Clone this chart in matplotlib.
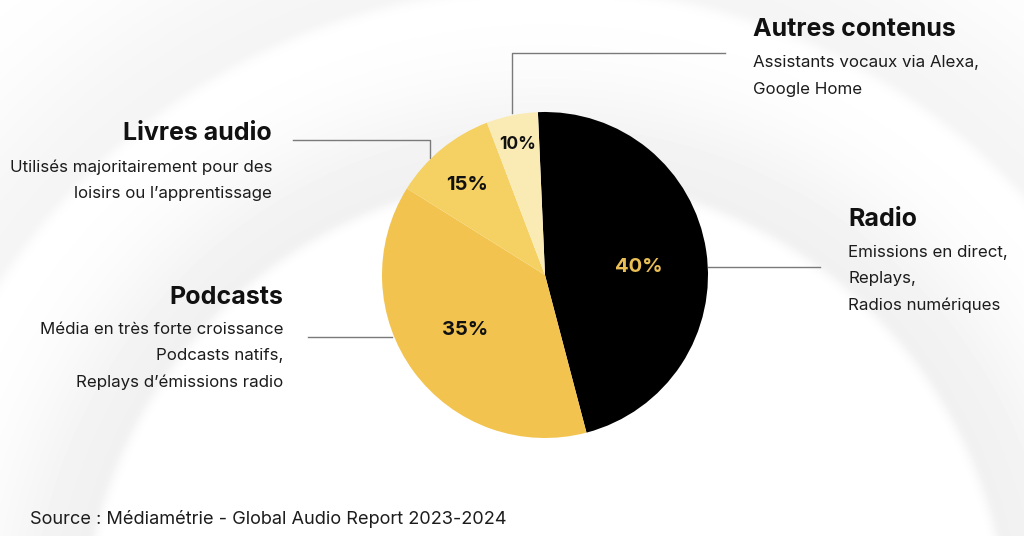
"""Répartition des usages audio - camembert annoté."""
import matplotlib.pyplot as plt
import numpy as np

plt.rcParams['font.family'] = ['Inter', 'DejaVu Sans']

# categories, shares shown in the labels, and slice sizes as drawn
categories = ['Radio', 'Podcasts', 'Livres audio', 'Autres contenus']
shares = [40, 35, 15, 10]
slice_sizes = [46.6, 38.0, 10.3, 5.1]
descriptions = [
    'Emissions en direct,\nReplays,\nRadios numériques',
    'Média en très forte croissance\nPodcasts natifs,\nReplays d’émissions radio',
    'Utilisés majoritairement pour des\nloisirs ou l’apprentissage',
    'Assistants vocaux via Alexa,\nGoogle Home',
]
source = 'Source : Médiamétrie - Global Audio Report 2023-2024'

W, H = 1024, 536
colors = ['#000000', '#F2C44F', '#F5D062', '#FAEBB4']
pct_colors = ['#E8BE55', '#111111', '#111111', '#111111']
pct_dist = [0.58, 0.595, 0.73, 0.82]
pct_shift = [-3.9, -1.9, 1.6, 0.0]   # degrees, fine placement of % labels

fig = plt.figure(figsize=(W / 100, H / 100), dpi=100)
ax = fig.add_axes([0, 0, 1, 1])
cx, cy, R = 545, H - 275, 163

# soft grey rings in the background
yy, xx = np.mgrid[0:H, 0:W]
d = np.hypot(xx - 545, yy - 640)
def band(r, w):
    inner = np.exp(-((r - d) / 10.0) ** 2)
    outer = np.exp(-((d - r) / w) ** 2)
    return np.where(d < r, inner, outer)
bg = 1 - 0.055 * band(470, 90) - 0.04 * band(660, 110)
ax.imshow(bg, cmap='gray', vmin=0, vmax=1, extent=(0, W, 0, H),
          origin='upper', zorder=0, interpolation='bilinear')

wedges, _ = ax.pie(slice_sizes, colors=colors, startangle=92.5,
                   counterclock=False, center=(cx, cy), radius=R,
                   wedgeprops=dict(linewidth=0, zorder=2))

for w, s, dist, shift, c in zip(wedges, shares, pct_dist, pct_shift,
                                pct_colors):
    mid = np.deg2rad((w.theta1 + w.theta2) / 2 + shift)
    size = 12.5 if s == 10 else 14.5
    ax.text(cx + dist * R * np.cos(mid), cy + dist * R * np.sin(mid),
            f'{s}%', ha='center', va='center', fontsize=size,
            fontweight='bold', color=c, zorder=5)

# connector lines
line_kw = dict(color='#7a7a7a', lw=1, zorder=1)
ax.plot([708, 820], [H - 267, H - 267], **line_kw)            # Radio
ax.plot([308, 392], [H - 337, H - 337], **line_kw)            # Podcasts
ax.plot([293, 430, 430], [H - 140, H - 140, H - 158], **line_kw)  # Livres
ax.plot([512, 512, 725], [H - 113, H - 53, H - 53], **line_kw)    # Autres

# titles and descriptions: (x, title y, first line y, alignment)
layout = [
    (848, 220, 252, 'left'),
    (283, 298, 329, 'right'),
    (272, 133, 167, 'right'),
    (753, 30, 63, 'left'),
]
for name, desc, (x, ty, dy, ha) in zip(categories, descriptions, layout):
    ax.text(x, H - ty, name, ha=ha, va='center', fontsize=18,
            fontweight='bold', color='#111111', zorder=5)
    for i, line in enumerate(desc.split('\n')):
        ax.text(x, H - dy - i * 26.8, line, ha=ha, va='center',
                fontsize=12.2, color='#1c1c1c', zorder=5)

ax.text(30, H - 519, source, ha='left', va='center', fontsize=13.1,
        color='#1c1c1c', zorder=5)

ax.set_xlim(0, W)
ax.set_ylim(0, H)
ax.set_aspect('equal')
ax.axis('off')
fig.savefig('out.png', dpi=100, facecolor='white')
